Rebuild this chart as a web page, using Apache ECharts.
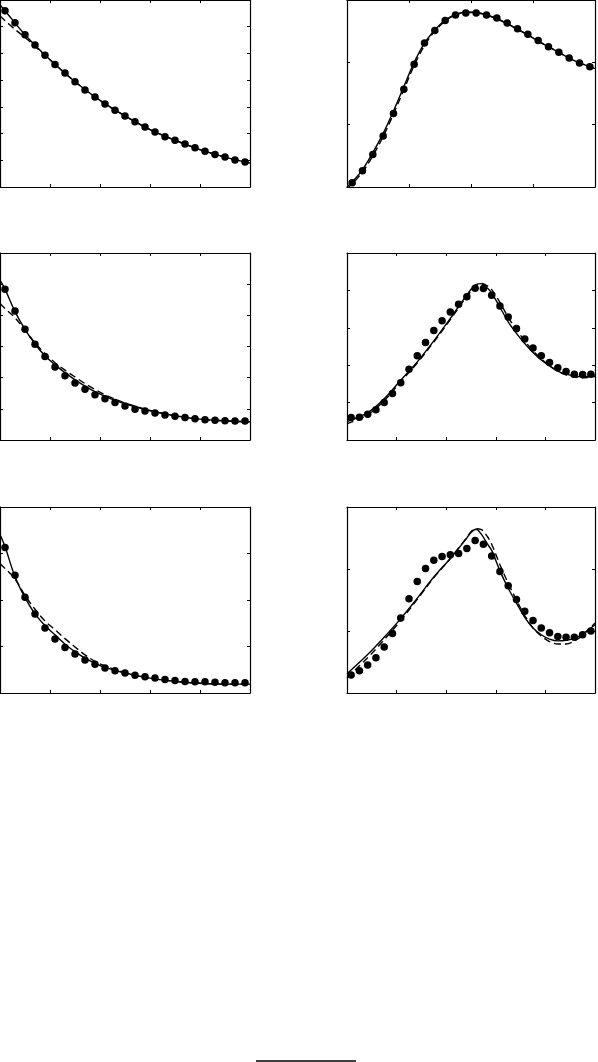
<!DOCTYPE html>
<html>
<head>
<meta charset="utf-8">
<script src="https://cdn.jsdelivr.net/npm/echarts@6/dist/echarts.min.js"></script>
<style>
html,body{margin:0;padding:0;background:#fff;}
#chart{width:598px;height:1062px;}
</style>
</head>
<body>
<div id="chart"></div>
<script>
// ---------- data ----------
// dot x positions
const dotX25 = [0.1,0.3,0.5,0.7,0.9,1.1,1.3,1.5,1.7,1.9,2.1,2.3,2.5,2.7,2.9,3.1,3.3,3.5,3.7,3.9,4.1,4.3,4.5,4.7,4.9];
const dotX24 = [0.5,1.5,2.5,3.5,4.5,5.5,6.5,7.5,8.5,9.5,10.5,11.5,12.5,13.5,14.5,15.5,16.5,17.5,18.5,19.5,20.5,21.5,22.5,23.5];
const dotX30 = [0.5,1.5,2.5,3.5,4.5,5.5,6.5,7.5,8.5,9.5,10.5,11.5,12.5,13.5,14.5,15.5,16.5,17.5,18.5,19.5,20.5,21.5,22.5,23.5,24.5,25.5,26.5,27.5,28.5,29.5];

// Panel 1 (top-left)
const p1Dots = [6.60,6.15,5.70,5.32,4.93,4.59,4.27,3.94,3.63,3.37,3.11,2.87,2.66,2.44,2.25,2.06,1.88,1.75,1.61,1.47,1.34,1.22,1.12,1.01,0.94];
const p1SolidX = [0,0.1,0.5,1.0,1.5,2.0,2.5,3.0,3.5,4.0,4.5,5.0];
const p1Solid  = [6.81,6.60,5.70,4.76,3.94,3.24,2.66,2.15,1.75,1.40,1.12,0.90];
const p1DashX  = [0,0.3,0.5,0.7,0.9,1.0,1.5,2.0,2.5,3.0,3.5,4.0,4.5,5.0];
const p1Dash   = [6.40,5.90,5.60,5.27,4.92,4.76,3.94,3.24,2.66,2.15,1.75,1.40,1.12,0.90];

// Panel 2 (top-right)
const p2Dots = [0.07,0.26,0.52,0.82,1.18,1.57,1.97,2.31,2.51,2.67,2.76,2.79,2.79,2.76,2.71,2.63,2.54,2.45,2.35,2.25,2.16,2.07,1.99,1.93];
const p2SolidX = [0,0.5,1.5,2.5,3.5,4.5,5.5,6.5,7.5,8.5,9.5,10.5,11.5,12.5,13.5,14.5,15.5,16.5,17.5,18.5,19.5,20.5,21.5,22.5,23.5,24];
const p2Solid  = [0.0,0.08,0.28,0.55,0.86,1.22,1.61,2.00,2.31,2.52,2.68,2.77,2.81,2.80,2.76,2.70,2.62,2.53,2.44,2.34,2.25,2.16,2.07,1.99,1.93,1.90];
const p2Dash   = [-0.02,0.05,0.24,0.50,0.81,1.17,1.56,1.95,2.27,2.50,2.66,2.76,2.80,2.80,2.76,2.70,2.62,2.53,2.44,2.34,2.25,2.16,2.07,1.99,1.93,1.90];

// Panel 3 (middle-left)
const p3Dots = [4.84,4.14,3.55,3.07,2.68,2.34,2.06,1.83,1.63,1.45,1.32,1.20,1.09,0.99,0.93,0.87,0.80,0.76,0.72,0.68,0.65,0.63,0.62,0.61,0.61];
const p3LineX = [0,0.1,0.3,0.5,0.7,0.9,1.1,1.3,1.5,1.7,1.9,2.1,2.3,2.5,3.0,3.5,4.0,4.5,5.0];
const p3Solid = [5.13,4.84,4.12,3.55,3.08,2.70,2.41,2.16,1.93,1.73,1.55,1.40,1.27,1.16,0.94,0.78,0.67,0.62,0.59];
const p3Dash  = [4.38,4.22,3.92,3.52,3.12,2.77,2.48,2.24,2.02,1.81,1.62,1.45,1.31,1.19,0.95,0.78,0.67,0.61,0.58];

// Panel 4 (middle-right)
const p4Dots = [0.60,0.61,0.69,0.81,1.00,1.24,1.53,1.89,2.25,2.61,2.93,3.19,3.42,3.63,3.83,4.06,4.05,3.87,3.58,3.29,2.98,2.70,2.46,2.25,2.07,1.93,1.83,1.76,1.75,1.76];
const p4LineX = [0,2.5,4.5,6.5,8.5,10.5,12.5,14.5,15.5,16.2,17.0,17.5,18.5,19.5,20.5,21.5,22.5,23.5,24.5,25.5,26.5,27.5,28.5,30];
const p4Solid = [0.49,0.73,1.10,1.60,2.09,2.65,3.25,3.88,4.14,4.18,4.06,3.93,3.55,3.16,2.85,2.58,2.34,2.14,1.98,1.84,1.76,1.71,1.69,1.74];
const p4Dash  = [0.43,0.68,1.05,1.56,2.06,2.62,3.22,3.84,4.10,4.19,4.12,4.02,3.68,3.28,2.95,2.65,2.39,2.17,1.99,1.84,1.74,1.68,1.66,1.70];

// Panel 5 (bottom-left)
const p5Dots = [3.13,2.53,2.06,1.70,1.40,1.16,0.98,0.84,0.71,0.62,0.54,0.48,0.43,0.38,0.35,0.32,0.29,0.27,0.25,0.24,0.24,0.23,0.22,0.22,0.22];
const p5LineX = [0,0.1,0.3,0.5,0.7,0.9,1.1,1.3,1.5,1.7,1.9,2.1,2.5,3.0,3.5,4.0,4.5,5.0];
const p5Solid = [3.41,3.15,2.50,2.05,1.70,1.45,1.25,1.05,0.89,0.75,0.64,0.55,0.43,0.32,0.25,0.21,0.19,0.19];
const p5Dash  = [2.78,2.68,2.45,2.10,1.80,1.55,1.36,1.17,0.99,0.82,0.68,0.58,0.44,0.32,0.25,0.21,0.19,0.19];

// Panel 6 (bottom-right)
const p6Dots = [0.29,0.36,0.45,0.57,0.74,0.96,1.21,1.52,1.80,2.01,2.14,2.20,2.23,2.25,2.33,2.46,2.40,2.21,1.96,1.73,1.51,1.32,1.17,1.05,0.97,0.91,0.90,0.90,0.94,1.00];
const p6LineX = [0,2.5,4.5,6.5,8.5,10.5,12.5,14.5,15.0,15.6,16.2,17.0,17.5,18.5,19.5,20.5,21.5,22.5,23.5,24.5,25.5,26.5,27.5,28.5,30];
const p6Solid = [0.31,0.62,0.90,1.20,1.53,1.87,2.17,2.50,2.59,2.64,2.57,2.40,2.30,1.97,1.69,1.45,1.22,1.05,0.94,0.87,0.84,0.85,0.88,0.95,1.10];
const p6Dash  = [0.25,0.57,0.86,1.17,1.51,1.86,2.17,2.51,2.60,2.65,2.64,2.52,2.40,2.07,1.77,1.50,1.25,1.05,0.92,0.83,0.79,0.79,0.84,0.93,1.13];

// axis ranges: [xMax, xInterval, yMax, yInterval]
const axisRanges = [
  [5, 1, 7, 1],
  [24, 6, 3, 1],
  [5, 1, 6, 1],
  [30, 6, 5, 1],
  [5, 1, 4, 1],
  [30, 6, 3, 1]
];

const panels = [
  {dx: dotX25, dy: p1Dots, sx: p1SolidX, sy: p1Solid, ddx: p1DashX, ddy: p1Dash},
  {dx: dotX24, dy: p2Dots, sx: p2SolidX, sy: p2Solid, ddx: p2SolidX, ddy: p2Dash},
  {dx: dotX25, dy: p3Dots, sx: p3LineX, sy: p3Solid, ddx: p3LineX, ddy: p3Dash},
  {dx: dotX30, dy: p4Dots, sx: p4LineX, sy: p4Solid, ddx: p4LineX, ddy: p4Dash},
  {dx: dotX25, dy: p5Dots, sx: p5LineX, sy: p5Solid, ddx: p5LineX, ddy: p5Dash},
  {dx: dotX30, dy: p6Dots, sx: p6LineX, sy: p6Solid, ddx: p6LineX, ddy: p6Dash}
];

// ---------- layout ----------
const gridBoxes = [
  {left: 0, top: 0, width: 250, height: 187},
  {left: 347, top: 0, width: 248, height: 187},
  {left: 0, top: 253, width: 250, height: 187},
  {left: 347, top: 253, width: 248, height: 187},
  {left: 0, top: 507, width: 250, height: 186},
  {left: 347, top: 507, width: 248, height: 186}
];

function zip(xs, ys) { return xs.map((x, i) => [x, ys[i]]); }

const grid = [], xAxis = [], yAxis = [], series = [];
const lineC = '#000';
panels.forEach((p, i) => {
  const g = gridBoxes[i];
  grid.push({left: g.left, top: g.top, width: g.width, height: g.height, containLabel: false});
  const [xm, xi, ym, yi] = axisRanges[i];
  const common = {
    type: 'value', gridIndex: i, splitLine: {show: false},
    axisLabel: {show: false},
    axisLine: {show: true, onZero: false, lineStyle: {color: lineC, width: 1.2}},
    axisTick: {show: true, inside: true, length: 3, lineStyle: {color: lineC, width: 1}}
  };
  xAxis.push(Object.assign({}, common, {position: 'bottom', min: 0, max: xm, interval: xi}));
  xAxis.push(Object.assign({}, common, {position: 'top', min: 0, max: xm, interval: xi}));
  yAxis.push(Object.assign({}, common, {position: 'left', min: 0, max: ym, interval: yi}));
  yAxis.push(Object.assign({}, common, {position: 'right', min: 0, max: ym, interval: yi}));
  const xi0 = i * 2, yi0 = i * 2;
  series.push({
    type: 'line', xAxisIndex: xi0, yAxisIndex: yi0, data: zip(p.sx, p.sy),
    showSymbol: false, smooth: 0.35, clip: true, silent: true,
    lineStyle: {color: lineC, width: 1.4, type: 'solid'}, z: 2
  });
  series.push({
    type: 'line', xAxisIndex: xi0, yAxisIndex: yi0, data: zip(p.ddx, p.ddy),
    showSymbol: false, smooth: 0.35, clip: true, silent: true,
    lineStyle: {color: lineC, width: 1.4, type: [7, 4]}, z: 2
  });
  series.push({
    type: 'scatter', xAxisIndex: xi0, yAxisIndex: yi0, data: zip(p.dx, p.dy),
    symbol: 'circle', symbolSize: 7.5, itemStyle: {color: '#000', opacity: 1}, silent: true, z: 3
  });
});

const chart = echarts.init(document.getElementById('chart'), null, {renderer: 'canvas'});
chart.setOption({
  animation: false,
  backgroundColor: '#fff',
  grid, xAxis, yAxis, series,
  graphic: [{
    type: 'line', shape: {x1: 256, y1: 1061, x2: 356, y2: 1061},
    style: {stroke: '#000', lineWidth: 1.5}
  }]
});
</script>
</body>
</html>
